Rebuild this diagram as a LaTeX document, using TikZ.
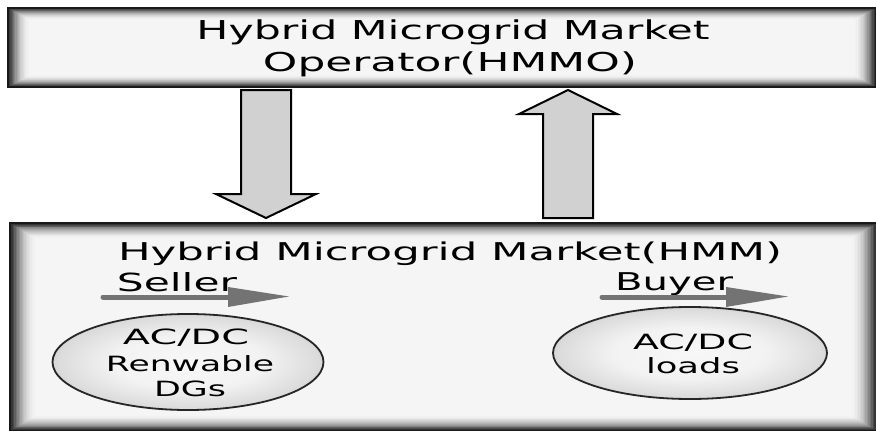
\documentclass[tikz,border=0pt]{standalone}
\usepackage{graphicx}
\usepackage{fontspec}
\setmainfont{DejaVu Sans}
\usetikzlibrary{shapes.geometric}

% light centre, darker rim for the two ovals (rim of the oval sits near 35bp)
\pgfdeclareradialshading{ovalshade}{\pgfpointorigin}{%
  color(0bp)=(black!3); color(14bp)=(black!5); color(24bp)=(black!14);
  color(30bp)=(black!28); color(33.5bp)=(black!48); color(36bp)=(black!60);
  color(50bp)=(black!60)}

% text of a given width (pt) at a given size, stretched sideways only
\newcommand\fittext[3]{\resizebox{#1pt}{\height}{\fontsize{#2}{#2}\selectfont #3}}

% panel with a dark rim that fades inwards: x1 y1 x2 y2 fade-x fade-y
\newcommand\glowpanel[6]{%
  \foreach \i in {0,...,18}{%
    \pgfmathsetmacro\pp{4+84*(1-\i/18)^2}%
    \fill[black!\pp!white] ({#1+\i*#5/18},{#2+\i*#6/18}) rectangle ({#3-\i*#5/18},{#4-\i*#6/18});
  }%
}

\tikzset{
  label/.style={anchor=base, inner sep=0pt, text=black},
  blockarrow/.style={fill=black!18, draw=black, line width=2pt, line join=miter},
  flowline/.style={draw=black!55, line width=5pt, line cap=round},
  flowhead/.style={fill=black!55},
  oval/.style={ellipse, draw=black!85, line width=1.8pt, shading=ovalshade, inner sep=0pt},
  panel/.style={rectangle, draw=black!90, line width=1.2pt, inner sep=0pt},
}

\begin{document}
\begin{tikzpicture}[x=1pt, y=-1pt]
  \useasboundingbox[fill=white] (0,0) rectangle (876,431);

  % operator panel
  \glowpanel{8}{8}{876}{87}{22}{12}
  \node[panel, minimum width=868pt, minimum height=79pt] (hmmo) at (442,47.5) {};
  \node[label] (hmmo1) at (453,39) {\fittext{513}{26}{Hybrid Microgrid Market}};
  \node[label] (hmmo2) at (450,71) {\fittext{374}{26}{Operator(HMMO)}};

  % market panel
  \glowpanel{10}{223}{877}{431}{26}{16}
  \node[panel, minimum width=867pt, minimum height=208pt] (hmm) at (443.5,327) {};
  \node[label] (hmmtitle) at (450,260) {\fittext{664}{24.5}{Hybrid Microgrid Market(HMM)}};

  % block arrows between the panels
  \draw[blockarrow] (241,90) -- (291,90) -- (291,194) -- (316,194) -- (266,218)
        -- (216,194) -- (241,194) -- cycle;
  \draw[blockarrow] (568,90) -- (617,114) -- (593,114) -- (593,218) -- (543,218)
        -- (543,114) -- (519,114) -- cycle;

  % sellers
  \node[label] (seller) at (177,291) {\fittext{120}{25}{Seller}};
  \coordinate (s0) at (103,297);
  \coordinate (s1) at (229,297);
  \draw[flowline] (s0) -- (s1);
  \fill[flowhead] (228,287) -- (289,296.5) -- (228,307) -- cycle;
  \node[oval, minimum width=271pt, minimum height=96pt] (dg) at (188,362) {};
  \node[label] (dg1) at (186,344) {\fittext{126}{21}{AC/DC}};
  \node[label] (dg2) at (190,371) {\fittext{168}{21}{Renwable}};
  \node[label] (dg3) at (190,396) {\fittext{72}{21}{DGs}};

  % buyers
  \node[label] (buyer) at (674,290) {\fittext{118}{24.5}{Buyer}};
  \coordinate (b0) at (602,297);
  \coordinate (b1) at (727,297);
  \draw[flowline] (b0) -- (b1);
  \fill[flowhead] (726,287) -- (788,296.5) -- (726,307) -- cycle;
  \node[oval, minimum width=274pt, minimum height=92pt] (ld) at (690,353) {};
  \node[label] (ld1) at (693,349) {\fittext{120}{21}{AC/DC}};
  \node[label] (ld2) at (693,373) {\fittext{94}{21}{loads}};
\end{tikzpicture}
\end{document}
